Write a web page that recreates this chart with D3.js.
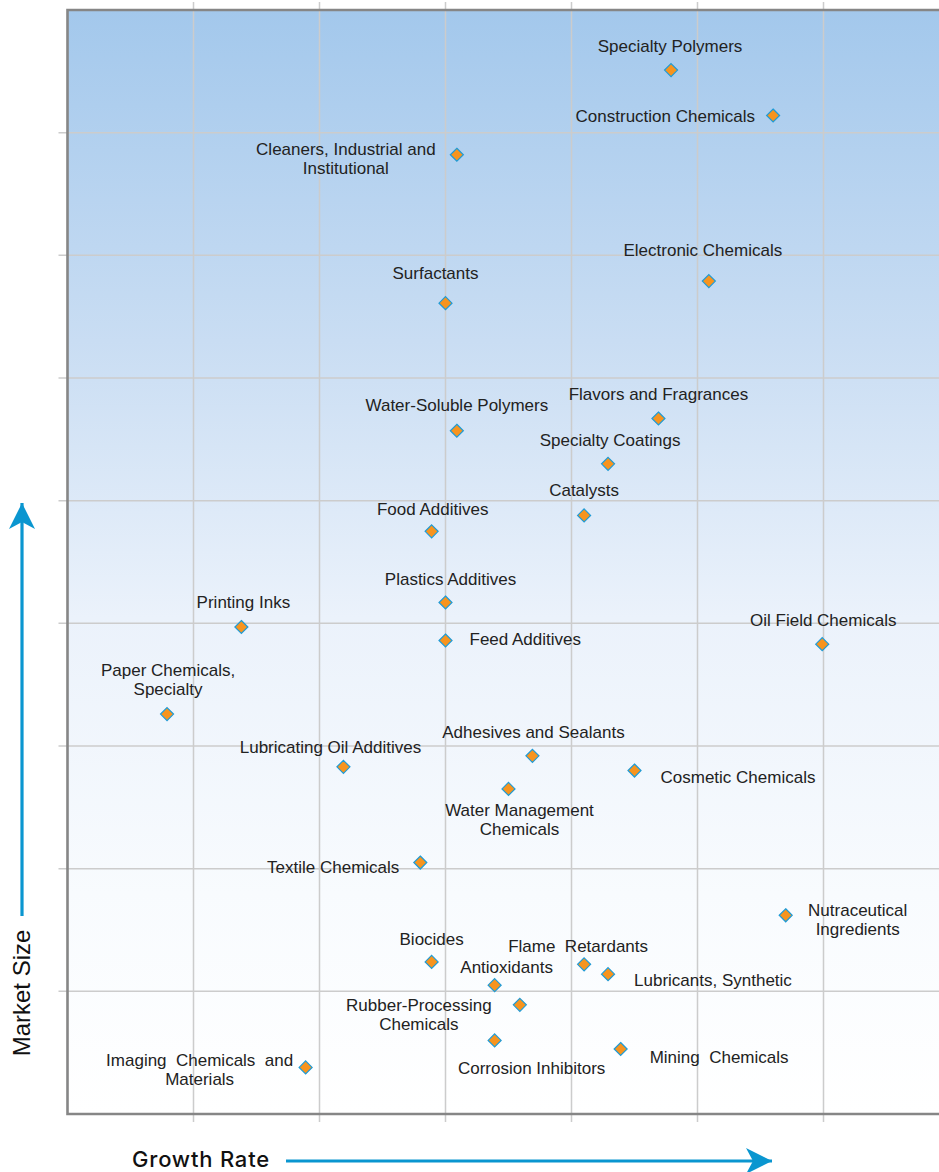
<!DOCTYPE html>
<html>
<head>
<meta charset="utf-8">
<script src="https://cdn.jsdelivr.net/npm/d3@7"></script>
<style>
  body { margin: 0; background: #fff; }
  svg { display: block; }
  .lbl { font-family: "Liberation Sans", Arial, sans-serif; font-size: 17px; fill: #222; }
</style>
</head>
<body>
<svg id="chart"></svg>
<script>
const WIDTH = 939;
const HEIGHT = 1172;

// chemical segments, growth (x) and market size (y) in grid units
const names = [
  "Specialty Polymers", "Construction Chemicals", "Cleaners, Industrial and\nInstitutional",
  "Electronic Chemicals", "Surfactants", "Flavors and Fragrances", "Water-Soluble Polymers",
  "Specialty Coatings", "Catalysts", "Food Additives", "Plastics Additives", "Printing Inks",
  "Feed Additives", "Oil Field Chemicals", "Paper Chemicals,\nSpecialty", "Adhesives and Sealants",
  "Lubricating Oil Additives", "Cosmetic Chemicals", "Water Management\nChemicals",
  "Textile Chemicals", "Nutraceutical\nIngredients", "Biocides", "Flame  Retardants",
  "Lubricants, Synthetic", "Antioxidants", "Rubber-Processing\nChemicals", "Corrosion Inhibitors",
  "Mining  Chemicals", "Imaging  Chemicals  and\nMaterials"
];
const growth = [
  4.79, 5.60, 3.09, 5.09, 3.00, 4.69, 3.09, 4.29, 4.10, 2.89, 3.00, 1.38, 3.00, 5.99, 0.79,
  3.69, 2.19, 4.50, 3.50, 2.80, 5.70, 2.89, 4.10, 4.29, 3.39, 3.59, 3.39, 4.39, 1.89
];
const marketSize = [
  8.51, 8.14, 7.82, 6.79, 6.61, 5.67, 5.57, 5.30, 4.88, 4.75, 4.17, 3.97, 3.86, 3.83, 3.26,
  2.92, 2.83, 2.80, 2.65, 2.05, 1.62, 1.24, 1.22, 1.14, 1.05, 0.89, 0.60, 0.53, 0.38
];
// label placement relative to each marker: [anchor, dx, dy of first baseline]
const labelPlace = [
  ["middle", -1, -18], ["end", -18, 7], ["middle", -111, 0],
  ["middle", -6, -25], ["middle", -10, -24], ["middle", 0, -18], ["middle", 0, -20],
  ["middle", 2, -18], ["middle", 0, -19], ["middle", 1, -16], ["middle", 5, -17], ["middle", 2, -19],
  ["start", 24, 4], ["middle", 1, -18], ["middle", 1, -38], ["middle", 1, -18],
  ["middle", -13, -14], ["start", 26, 12], ["middle", 11, 27],
  ["end", -21, 10], ["middle", 72, 1], ["middle", 0, -17], ["middle", -6, -12],
  ["start", 26, 12], ["middle", 12, -12], ["middle", -101, 6], ["middle", 37, 34],
  ["start", 29, 14], ["middle", -106, -1]
];
const xTicks = [1, 2, 3, 4, 5, 6];
const yTicks = [1, 2, 3, 4, 5, 6, 7, 8];

const points = names.map((n, i) => ({
  name: n, x: growth[i], y: marketSize[i],
  anchor: labelPlace[i][0], dx: labelPlace[i][1], dy: labelPlace[i][2]
}));

const PLOT_LEFT = 67.5, PLOT_TOP = 10, PLOT_BOTTOM = 1114;
const x = d3.scaleLinear().domain([0, 7]).range([PLOT_LEFT, PLOT_LEFT + 7 * 126]);
const y = d3.scaleLinear().domain([0, 9]).range([PLOT_BOTTOM, PLOT_TOP]);

const svg = d3.select("#chart").attr("width", WIDTH).attr("height", HEIGHT);

const defs = svg.append("defs");
const grad = defs.append("linearGradient")
  .attr("id", "bg").attr("x1", 0).attr("y1", 0).attr("x2", 0).attr("y2", 1);
[[0, "#A3C8EC"], [0.3, "#C9DDF3"], [0.55, "#EBF2FB"], [0.8, "#F8FBFE"], [1, "#FFFFFF"]]
  .forEach(s => grad.append("stop").attr("offset", s[0]).attr("stop-color", s[1]));

defs.append("marker")
  .attr("id", "arrow")
  .attr("viewBox", "-26 -14 28 28")
  .attr("markerWidth", 28).attr("markerHeight", 28)
  .attr("markerUnits", "userSpaceOnUse")
  .attr("refX", 0).attr("refY", 0)
  .attr("orient", "auto")
  .append("path")
  .attr("d", "M0,0 L-26,-13 L-19,0 L-26,13 Z")
  .attr("fill", "#0A96D0");

svg.append("rect")
  .attr("x", PLOT_LEFT).attr("y", PLOT_TOP)
  .attr("width", WIDTH - PLOT_LEFT + 10).attr("height", PLOT_BOTTOM - PLOT_TOP)
  .attr("fill", "url(#bg)");

// grid lines
svg.append("g").selectAll("line").data(xTicks).join("line")
  .attr("x1", d => x(d)).attr("x2", d => x(d))
  .attr("y1", 2).attr("y2", PLOT_BOTTOM + 8)
  .attr("stroke", "#CCCCCC").attr("stroke-width", 1.5);
svg.append("g").selectAll("line").data(yTicks).join("line")
  .attr("x1", PLOT_LEFT - 9).attr("x2", WIDTH)
  .attr("y1", d => y(d)).attr("y2", d => y(d))
  .attr("stroke", "#CCCCCC").attr("stroke-width", 1.5);

// frame: left, top, bottom
svg.append("path")
  .attr("d", `M${WIDTH + 5},${PLOT_TOP} H${PLOT_LEFT} V${PLOT_BOTTOM} H${WIDTH + 5}`)
  .attr("fill", "none").attr("stroke", "#868686").attr("stroke-width", 2.6);

// markers
const g = svg.append("g").selectAll("g").data(points).join("g")
  .attr("transform", d => `translate(${x(d.x)},${y(d.y)})`);

g.append("path")
  .attr("d", "M0,-6.5 L6.5,0 L0,6.5 L-6.5,0 Z")
  .attr("fill", "#F7941E")
  .attr("stroke", "#1E9BD7")
  .attr("stroke-width", 1.2);

g.append("text")
  .attr("class", "lbl")
  .attr("text-anchor", d => d.anchor)
  .style("white-space", "pre")
  .selectAll("tspan")
  .data(d => d.name.split("\n").map((t, i) => ({ t, i, d })))
  .join("tspan")
  .attr("x", d => d.d.dx)
  .attr("y", d => d.d.dy + d.i * 19)
  .text(d => d.t);

// axis titles and arrows
svg.append("line")
  .attr("x1", 22).attr("y1", 916).attr("x2", 22).attr("y2", 503)
  .attr("stroke", "#0A96D0").attr("stroke-width", 3.2)
  .attr("marker-end", "url(#arrow)");
svg.append("text")
  .attr("transform", "translate(30,993) rotate(-90)")
  .attr("text-anchor", "middle")
  .style("font-family", "'Liberation Sans', Arial, sans-serif")
  .style("font-size", "24px")
  .attr("fill", "#111")
  .text("Market Size");

svg.append("line")
  .attr("x1", 286).attr("y1", 1161).attr("x2", 772).attr("y2", 1161)
  .attr("stroke", "#0A96D0").attr("stroke-width", 3.2)
  .attr("marker-end", "url(#arrow)");
svg.append("text")
  .attr("x", 132).attr("y", 1167)
  .style("font-family", "Inter, sans-serif")
  .style("font-size", "22px")
  .style("font-weight", 500)
  .style("letter-spacing", "0.8px")
  .attr("fill", "#111")
  .text("Growth Rate");
</script>
</body>
</html>
